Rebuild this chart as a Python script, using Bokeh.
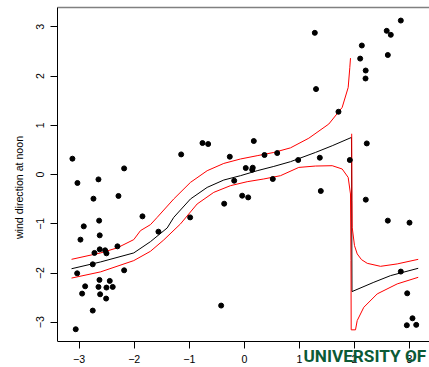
from bokeh.plotting import figure
from bokeh.models import FixedTicker, LinearAxis, Label, Title
from bokeh.embed import file_html
from bokeh.resources import INLINE

# ---- data ----
pt_x = [-3.122, -2.183, -3.031, -2.649, -2.740, -2.286, -1.850, -2.637, -2.916, -2.626,
        -2.976, -2.626, -2.722, -2.528, -2.504, -2.304, -2.753, -3.036, -2.183, -2.631,
        -2.444, -2.891, -2.649, -2.504, -2.390, -2.946, -2.619, -2.510, -2.753, -3.062,
        -1.147, -0.760, -0.657, 0.172, -0.264, 0.366, 0.597, 0.026, 0.153, 0.143,
        -0.184, 0.517, -0.366, -0.039, 0.070, -0.984, -1.560, -0.421,
        1.280, 1.302, 1.710, 0.978, 1.371, 1.916, 2.224, 2.104, 2.134, 2.204,
        2.201, 2.586, 2.660, 2.606, 2.842, 1.389, 2.206, 2.606, 3.000, 2.842,
        2.958, 3.054, 2.951, 3.122]
pt_y = [0.322, 0.125, -0.171, -0.098, -0.490, -0.435, -0.849, -0.936, -1.052, -1.235,
        -1.322, -1.519, -1.592, -1.539, -1.600, -1.458, -1.823, -2.006, -1.945, -2.140,
        -2.160, -2.270, -2.282, -2.296, -2.282, -2.418, -2.432, -2.519, -2.763, -3.142,
        0.409, 0.640, 0.620, 0.681, 0.362, 0.397, 0.437, 0.133, 0.139, 0.098,
        -0.125, -0.090, -0.592, -0.429, -0.464, -0.870, -1.160, -2.661,
        2.878, 1.736, 1.275, 0.295, 0.342, 0.295, 0.632, 2.355, 2.621, 2.113,
        1.951, 2.919, 2.838, 2.428, 3.128, -0.334, -0.510, -0.936, -0.977, -1.971,
        -2.412, -2.919, -3.061, -3.053]

fit_x = [-3.138, -2.611, -2.008, -1.705, -1.401, -1.282, -0.978, -0.675, -0.373, -0.070,
         0.233, 0.535, 0.838, 1.292, 1.596, 1.946, 1.955, 2.352, 2.655, 3.158]
fit_y = [-1.913, -1.775, -1.592, -1.363, -1.085, -0.870, -0.496, -0.261, -0.111, -0.023,
         0.078, 0.165, 0.261, 0.449, 0.585, 0.754, -2.377, -2.188, -2.053, -1.904]

up1_x = [-3.138, -2.611, -2.310, -2.008, -1.886, -1.705, -1.583, -1.282, -0.978, -0.675,
         -0.373, -0.070, 0.233, 0.535, 0.838, 1.171, 1.534, 1.777, 1.886, 1.916, 1.928]
up1_y = [-1.722, -1.592, -1.490, -1.322, -1.139, -1.018, -0.870, -0.496, -0.159, 0.078,
         0.226, 0.316, 0.383, 0.449, 0.542, 0.738, 1.026, 1.363, 1.768, 2.174, 2.365]

up2_x = [1.950, 1.955, 1.959, 2.001, 2.050, 2.128, 2.232, 2.473, 2.777, 3.158]
up2_y = [0.829, -0.531, -1.072, -1.444, -1.612, -1.728, -1.803, -1.864, -1.815, -1.722]

lo_x = [-3.138, -2.611, -2.008, -1.705, -1.463, -1.160, -0.857, -0.555, -0.252, 0.052,
        0.353, 0.657, 0.989, 1.292, 1.596, 1.777, 1.886, 1.928, 1.937, 1.941,
        2.019, 2.050, 2.170, 2.413, 2.777, 3.158]
lo_y = [-2.103, -1.977, -1.748, -1.559, -1.328, -1.003, -0.598, -0.362, -0.226, -0.145,
        -0.090, -0.023, 0.145, 0.173, 0.180, 0.113, -0.058, -0.395, -1.748, -3.154,
        -3.154, -2.966, -2.696, -2.424, -2.221, -2.087]

ticks = [-3, -2, -1, 0, 1, 2, 3]
tick_labels = {t: (str(t).replace("-", "\u2212")) for t in ticks}
y_title = "wind direction at noon"
watermark = "UNIVERSITY OF"

FONT = "Liberation Sans"
FS = "10.6px"
Y_LO, Y_HI = -3.393, 3.393

p = figure(width=429, height=367, output_backend="svg", toolbar_location=None,
           x_range=(-3.393, 3.363), y_range=(-3.919, Y_HI),
           min_border_left=57, min_border_right=0, min_border_top=7, min_border_bottom=0)
p.outline_line_color = None
p.background_fill_color = "white"
p.border_fill_color = "white"
p.xgrid.visible = False
p.ygrid.visible = False

# bottom axis sits at the lower edge of the data box (frame continues to the canvas bottom)
p.xaxis[0].fixed_location = Y_LO
p.yaxis[0].bounds = (Y_LO, Y_HI)

for ax in (p.xaxis[0], p.yaxis[0]):
    ax.ticker = FixedTicker(ticks=ticks)
    ax.major_label_overrides = tick_labels
    ax.major_tick_in = 0
    ax.major_tick_out = 7
    ax.minor_tick_line_color = None
    ax.axis_line_color = "black"
    ax.major_tick_line_color = "black"
    ax.major_label_text_font = FONT
    ax.major_label_text_font_size = FS
    ax.major_label_text_color = "black"
    ax.major_label_standoff = 6

p.yaxis[0].major_label_orientation = "parallel"

# y title as a left-side title, shifted up so it is centred on the data box
p.add_layout(Title(text=y_title, align="center", offset=13, standoff=18,
                   text_font=FONT, text_font_size=FS, text_font_style="normal",
                   text_color="black"), "left")

top = LinearAxis(ticker=FixedTicker(ticks=[]), axis_line_color="#808080", axis_line_width=1.5,
                 major_tick_line_color=None, minor_tick_line_color=None,
                 major_label_text_font_size="0px", major_label_standoff=0)
p.add_layout(top, "above")

p.line(fit_x, fit_y, line_color="black", line_width=1)
p.line(up1_x, up1_y, line_color="red", line_width=1)
p.line(up2_x, up2_y, line_color="red", line_width=1)
p.line(lo_x, lo_y, line_color="red", line_width=1)
p.scatter(pt_x, pt_y, size=5, color="black")

p.add_layout(Label(x=1.074, y=-3.690, text=watermark, text_font="Roboto",
                   text_font_style="bold", text_font_size="17.2px",
                   text_color="#0b5a36", text_baseline="alphabetic"))

open("out.html", "w").write(file_html(p, INLINE))
